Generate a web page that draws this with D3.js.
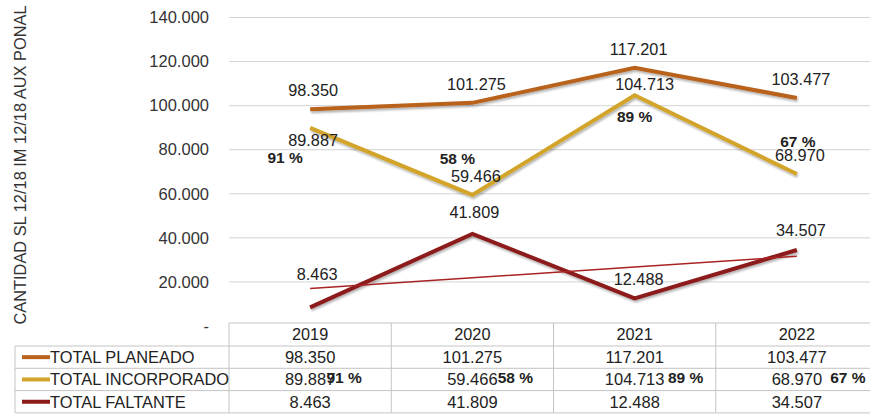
<!DOCTYPE html>
<html><head><meta charset="utf-8">
<script src="https://cdn.jsdelivr.net/npm/d3@7/dist/d3.min.js"></script>
<style>
body{margin:0;background:#fff;}
svg{font-family:"Liberation Sans",Arial,sans-serif;}
</style></head>
<body><svg id="c" width="870" height="417"></svg>
<script>
const years = ["2019","2020","2021","2022"];
const planeado = [98350,101275,117201,103477];
const incorporado = [89887,59466,104713,68970];
const faltante = [8463,41809,12488,34507];
const porcentaje = ["91 %","58 %","89 %","67 %"];
const yTicks = [0,20000,40000,60000,80000,100000,120000,140000];
const seriesNames = ["TOTAL PLANEADO","TOTAL INCORPORADO","TOTAL FALTANTE"];
const yTitle = "CANTIDAD SL 12/18 IM 12/18 AUX PONAL";

// layout / style constants
const colors = ["#b8621e","#d2a42a","#8c1a1a"];
const plotL = 229, plotR = 878, gridR = 870, plotT = 17.5, plotB = 326;
// label offsets (dx, baseline dy) per point, relative to the point
const offP = [[3,-13.5],[4,-13],[4,-12.5],[4,-13]];
const offI = [[3,18],[3.5,-13],[10,-5],[3,-13]];
const offF = [[7,-27.5],[2,-16],[4,-13.5],[4,-14]];
const offPct = [[-25,35],[-15,-31],[0,27],[1,-27]];
const pctTableDx = [34,43,51,51];

const svg = d3.select("#c");
const defs = svg.append("defs");
const f = defs.append("filter").attr("id","sh").attr("x","-10%").attr("y","-20%").attr("width","120%").attr("height","140%");
f.append("feDropShadow").attr("dx",1).attr("dy",2).attr("stdDeviation",1.2).attr("flood-color","#000").attr("flood-opacity",0.3);

const x = d3.scaleBand().domain(years).range([plotL, plotR]);
const y = d3.scaleLinear().domain([0,140000]).range([plotB, plotT]);
const fmt = v => v === 0 ? "-" : d3.format(",")(v).replace(/,/g,".");
const cx = d => x(d) + x.bandwidth()/2;

// gridlines
svg.append("g").selectAll("line").data(yTicks.filter(t=>t>0)).join("line")
  .attr("x1",plotL).attr("x2",gridR).attr("y1",d=>y(d)).attr("y2",d=>y(d))
  .attr("stroke","#d4d4d4").attr("stroke-width",1);

// y axis labels
const yAxis = d3.axisLeft(y).tickValues(yTicks).tickFormat(fmt).tickSize(0).tickPadding(0);
const ga = svg.append("g").attr("transform",`translate(209,0)`).call(yAxis);
ga.select(".domain").remove();
ga.selectAll("text").attr("font-size",16.5).attr("fill","#333").attr("font-family","Liberation Sans, Arial, sans-serif");

// y title
svg.append("text").attr("transform",`translate(26,165) rotate(-90)`)
  .attr("text-anchor","middle").attr("font-size",16.4).attr("fill","#333").text(yTitle);

// trendline for faltante (least squares)
const n = faltante.length, xs = d3.range(n);
const mx = d3.mean(xs), my = d3.mean(faltante);
const slope = d3.sum(xs, i => (i-mx)*(faltante[i]-my)) / d3.sum(xs, i => (i-mx)*(i-mx));
const icpt = my - slope*mx;
const trend = xs.map(i => icpt + slope*i);

const line = d3.line().x((d,i)=>cx(years[i])).y(d=>y(d));
const allSeries = [planeado, incorporado, faltante];
svg.append("g").selectAll("path").data(allSeries).join("path")
  .attr("d", line).attr("fill","none").attr("stroke",(d,i)=>colors[i])
  .attr("stroke-width",4).attr("stroke-linejoin","miter").attr("filter","url(#sh)");
svg.append("path").attr("d", line(trend)).attr("fill","none").attr("stroke","#a82323").attr("stroke-width",1.5);

// data labels
function labels(data, off){
  svg.append("g").selectAll("text").data(data).join("text")
    .attr("x",(d,i)=>cx(years[i])+off[i][0]).attr("y",(d,i)=>y(d)+off[i][1])
    .attr("text-anchor","middle").attr("font-size",16.3).attr("fill","#222").text(d=>fmt(d));
}
labels(planeado, offP);
labels(incorporado, offI);
labels(faltante, offF);
svg.append("g").selectAll("text").data(porcentaje).join("text")
  .attr("x",(d,i)=>cx(years[i])+offPct[i][0]).attr("y",(d,i)=>y(incorporado[i])+offPct[i][1])
  .attr("text-anchor","middle").attr("font-size",15.5).attr("font-weight","bold").attr("fill","#222").text(d=>d);

// data table
const tTop = 323, hRow = 23, rowH = 22.3, tLeft = 15;
const tb = svg.append("g");
const bc = "#c4c4c4";
tb.append("line").attr("x1",plotL).attr("x2",gridR).attr("y1",tTop).attr("y2",tTop).attr("stroke",bc);
const rowYs = d3.range(seriesNames.length+1).map(i => tTop+hRow+i*rowH);
tb.selectAll("line.h").data(rowYs).join("line").attr("class","h")
  .attr("x1",tLeft).attr("x2",gridR).attr("y1",d=>d).attr("y2",d=>d).attr("stroke",bc);
tb.append("line").attr("x1",tLeft).attr("x2",tLeft).attr("y1",rowYs[0]).attr("y2",rowYs[rowYs.length-1]).attr("stroke",bc);
tb.selectAll("line.v").data(years).join("line").attr("class","v")
  .attr("x1",d=>x(d)).attr("x2",d=>x(d)).attr("y1",tTop).attr("y2",rowYs[rowYs.length-1]).attr("stroke",bc);
// header
tb.selectAll("text.yr").data(years).join("text").attr("class","yr")
  .attr("x",d=>cx(d)).attr("y",tTop+hRow/2+5.8).attr("text-anchor","middle")
  .attr("font-size",16.3).attr("fill","#222").text(d=>d);
// rows
allSeries.forEach((s,ri)=>{
  const yy = rowYs[ri] + rowH/2;
  tb.append("line").attr("x1",22).attr("x2",50).attr("y1",yy).attr("y2",yy)
    .attr("stroke",colors[ri]).attr("stroke-width",4);
  tb.append("text").attr("x",50).attr("y",yy+5.8).attr("font-size",16.4).attr("fill","#222").text(seriesNames[ri]);
  tb.selectAll("text.r"+ri).data(s).join("text").attr("class","r"+ri)
    .attr("x",(d,i)=>cx(years[i])).attr("y",yy+5.8).attr("text-anchor","middle")
    .attr("font-size",16.5).attr("fill","#222").text(d=>fmt(d));
});
// percent labels inside table
tb.selectAll("text.pt").data(porcentaje).join("text").attr("class","pt")
  .attr("x",(d,i)=>cx(years[i])+pctTableDx[i]).attr("y",rowYs[1]+rowH/2+3.5)
  .attr("text-anchor","middle").attr("font-size",15.5).attr("font-weight","bold").attr("fill","#222").text(d=>d);
</script></body></html>
